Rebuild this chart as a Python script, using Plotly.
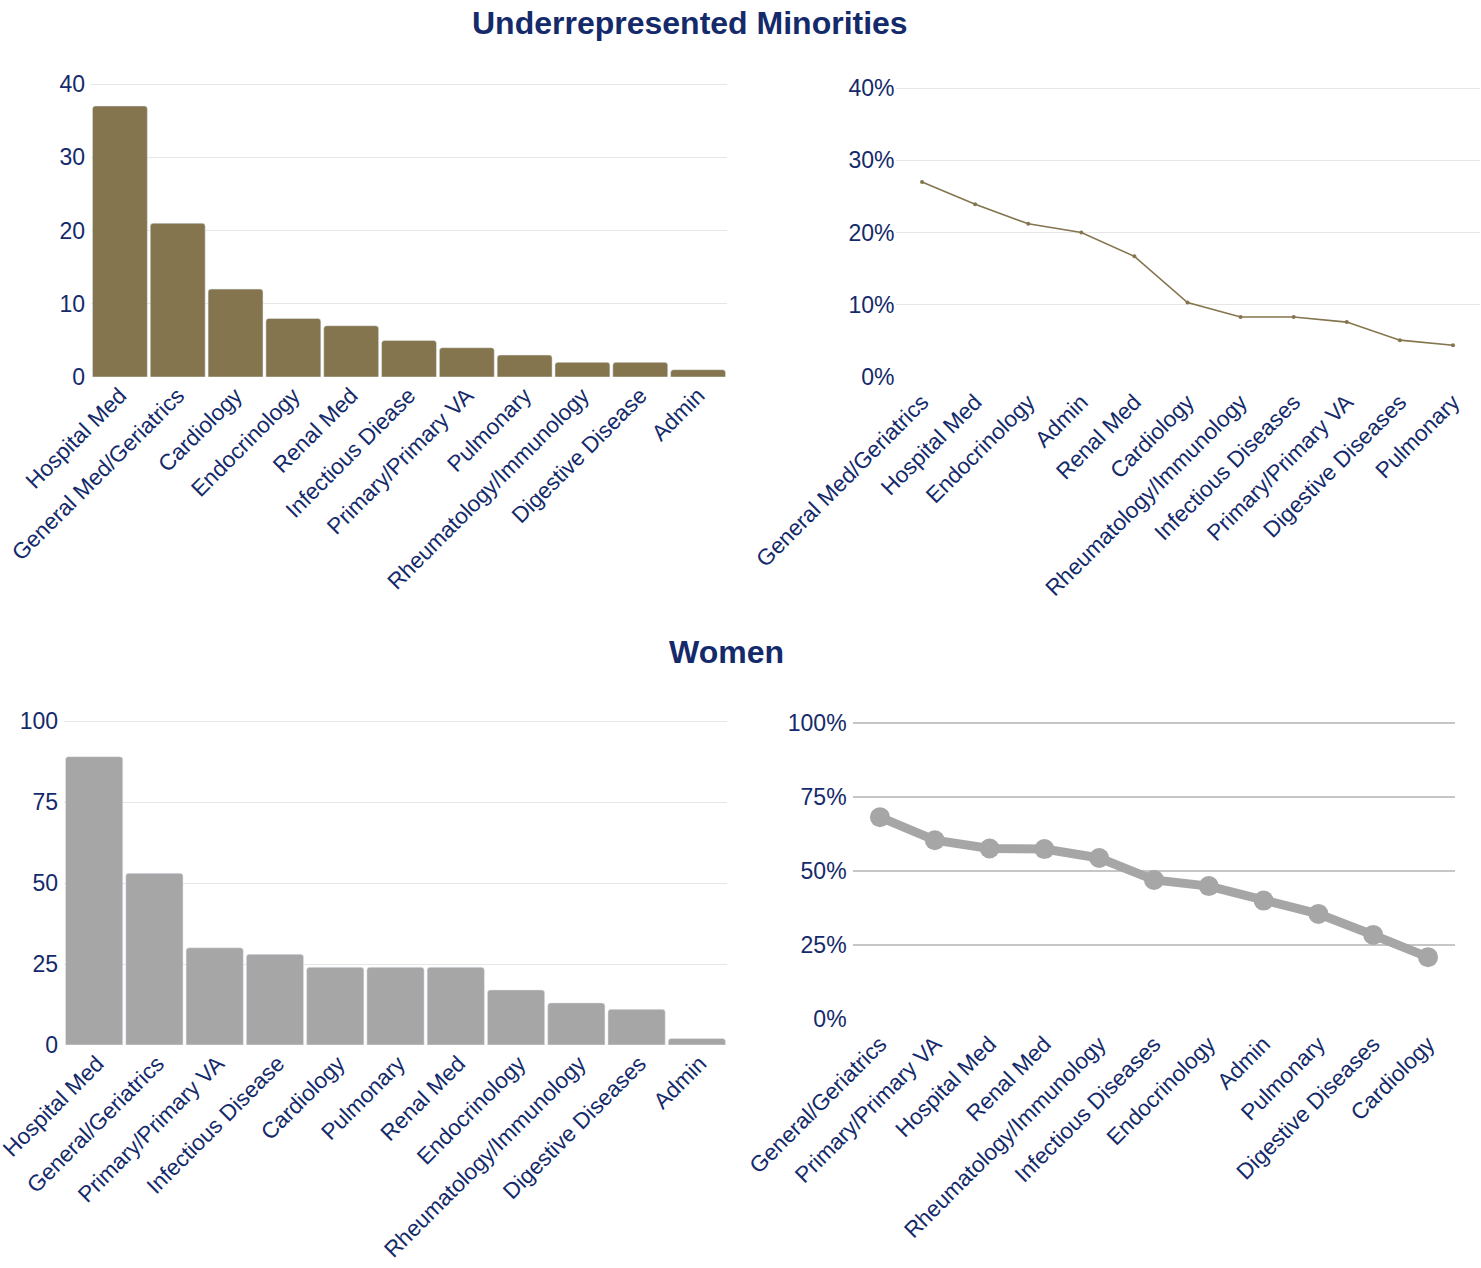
import plotly.graph_objects as go

# ---- data ----
urm_count_cats = ["Hospital Med", "General Med/Geriatrics", "Cardiology", "Endocrinology",
                  "Renal Med", "Infectious Diease", "Primary/Primary VA", "Pulmonary",
                  "Rheumatology/Immunology", "Digestive Disease", "Admin"]
urm_counts = [37, 21, 12, 8, 7, 5, 4, 3, 2, 2, 1]

urm_pct_cats = ["General Med/Geriatrics", "Hospital Med", "Endocrinology", "Admin", "Renal Med",
                "Cardiology", "Rheumatology/Immunology", "Infectious Diseases",
                "Primary/Primary VA", "Digestive Diseases", "Pulmonary"]
urm_pct = [0.270, 0.239, 0.212, 0.200, 0.167, 0.103, 0.083, 0.083, 0.076, 0.051, 0.044]

women_count_cats = ["Hospital Med", "General/Geriatrics", "Primary/Primary VA", "Infectious Disease",
                    "Cardiology", "Pulmonary", "Renal Med", "Endocrinology",
                    "Rheumatology/Immunology", "Digestive Diseases", "Admin"]
women_counts = [89, 53, 30, 28, 24, 24, 24, 17, 13, 11, 2]

women_pct_cats = ["General/Geriatrics", "Primary/Primary VA", "Hospital Med", "Renal Med",
                  "Rheumatology/Immunology", "Infectious Diseases", "Endocrinology", "Admin",
                  "Pulmonary", "Digestive Diseases", "Cardiology"]
women_pct = [0.682, 0.604, 0.576, 0.574, 0.544, 0.470, 0.449, 0.400, 0.355, 0.284, 0.209]

# ---- styling ----
W, H = 1481, 1268
NAVY = "#142a6a"
BROWN = "#84754e"
GRAY = "#a6a6a6"
FONT = "Liberation Sans, Arial, sans-serif"
Y_TICK_FONT = dict(family=FONT, size=23, color=NAVY)
X_TICK_FONT = dict(family=FONT, size=22.5, color=NAVY)


def px_x(a, b):
    return [a / W, b / W]


def px_y(top, bottom):
    return [(H - bottom) / H, (H - top) / H]


fig = go.Figure()

fig.add_trace(go.Bar(x=urm_count_cats, y=urm_counts, marker_color=BROWN,
                     xaxis="x", yaxis="y", showlegend=False))
fig.add_trace(go.Scatter(x=urm_pct_cats, y=urm_pct, mode="lines+markers",
                         line=dict(color=BROWN, width=1.6), marker=dict(color=BROWN, size=4),
                         xaxis="x2", yaxis="y2", showlegend=False))
fig.add_trace(go.Bar(x=women_count_cats, y=women_counts, marker_color=GRAY,
                     xaxis="x3", yaxis="y3", showlegend=False))
fig.add_trace(go.Scatter(x=women_pct_cats, y=women_pct, mode="lines+markers",
                         line=dict(color=GRAY, width=9), marker=dict(color=GRAY, size=20),
                         xaxis="x4", yaxis="y4", showlegend=False))

xcommon = dict(tickangle=-45, tickfont=X_TICK_FONT, showgrid=False, zeroline=False,
               ticks="", range=[-0.5, 10.5], automargin=False)
ycommon = dict(tickfont=Y_TICK_FONT, zeroline=False, ticks="", showline=False,
               automargin=False)

# y ranges run a hair past the top tick so its gridline is drawn
fig.update_layout(
    width=W, height=H,
    margin=dict(l=0, r=0, t=0, b=0),
    paper_bgcolor="white", plot_bgcolor="white",
    bargap=0.05, barcornerradius=3,
    font=dict(family=FONT, color=NAVY),
    xaxis=dict(domain=px_x(91, 727), anchor="y", **xcommon),
    yaxis=dict(domain=px_y(81.07, 377), anchor="x", range=[0, 40.4], tickvals=[0, 10, 20, 30, 40],
               gridcolor="#e6e6e6", gridwidth=1, ticklabelstandoff=5, **ycommon),
    xaxis2=dict(domain=px_x(895.5, 1479.5), anchor="y2", showline=True,
                linecolor="white", linewidth=3, **xcommon),
    yaxis2=dict(domain=px_y(85.11, 377), anchor="x2", range=[0, 0.404],
                tickvals=[0, 0.1, 0.2, 0.3, 0.4], ticklabelstandoff=0,
                tickformat=".0%", gridcolor="#e6e6e6", gridwidth=1, **ycommon),
    xaxis3=dict(domain=px_x(64, 727), anchor="y3", ticklabelshift=3, **xcommon),
    yaxis3=dict(domain=px_y(717.76, 1045), anchor="x3", range=[0, 101],
                tickvals=[0, 25, 50, 75, 100], ticklabelstandoff=5,
                gridcolor="#e6e6e6", gridwidth=1, **ycommon),
    xaxis4=dict(domain=px_x(852.6, 1455.4), anchor="y4", showline=True,
                linecolor="white", linewidth=3, **xcommon),
    yaxis4=dict(domain=px_y(720.04, 1019), anchor="x4", range=[0, 1.01],
                tickvals=[0, 0.25, 0.5, 0.75, 1.0], ticklabelstandoff=5,
                tickformat=".0%", gridcolor="#c6c6c6", gridwidth=2, **ycommon),
    annotations=[
        dict(text="<b>Underrepresented Minorities</b>", x=690 / W, y=(H - 23) / H,
             xref="paper", yref="paper", showarrow=False, xanchor="center", yanchor="middle",
             font=dict(family=FONT, size=32, color=NAVY)),
        dict(text="<b>Women</b>", x=726 / W, y=(H - 652) / H,
             xref="paper", yref="paper", showarrow=False, xanchor="center", yanchor="middle",
             font=dict(family=FONT, size=32, color=NAVY)),
    ],
)

fig.write_html("out.html")
